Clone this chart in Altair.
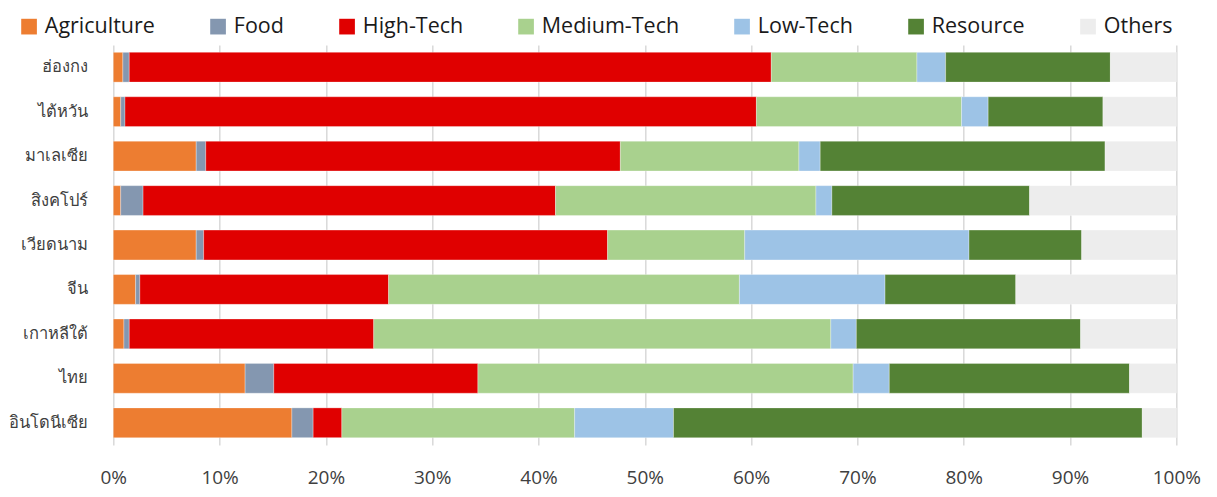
import altair as alt
import pandas as pd

countries = ["ฮ่องกง", "ไต้หวัน", "มาเลเซีย", "สิงคโปร์", "เวียดนาม", "จีน", "เกาหลีใต้", "ไทย", "อินโดนีเซีย"]
sectors = ["Agriculture", "Food", "High-Tech", "Medium-Tech", "Low-Tech", "Resource", "Others"]
colors = ["#ED7D31", "#8497B0", "#E00000", "#A9D18E", "#9DC3E6", "#548235", "#EDEDED"]

agriculture = [0.9, 0.7, 7.8, 0.7, 7.8, 2.1, 1.0, 12.4, 16.8]
food        = [0.6, 0.4, 0.9, 2.1, 0.7, 0.4, 0.5, 2.7, 2.0]
high_tech   = [60.4, 59.4, 39.0, 38.8, 38.0, 23.4, 23.0, 19.2, 2.7]
medium_tech = [13.7, 19.3, 16.8, 24.5, 12.9, 33.0, 43.0, 35.3, 21.9]
low_tech    = [2.7, 2.5, 2.0, 1.5, 21.1, 13.7, 2.4, 3.4, 9.3]
resource    = [15.5, 10.8, 26.8, 18.6, 10.6, 12.3, 21.1, 22.6, 44.1]
others      = [6.2, 6.9, 6.7, 13.8, 8.9, 15.1, 9.0, 4.4, 3.2]

series = [agriculture, food, high_tech, medium_tech, low_tech, resource, others]
rows = []
for si, (name, vals) in enumerate(zip(sectors, series)):
    for c, v in zip(countries, vals):
        rows.append({"country": c, "sector": name, "value": v, "order": si})
df = pd.DataFrame(rows)

FONT = "Open Sans, Noto Sans, sans-serif"

chart = alt.Chart(df).mark_bar(stroke="white", strokeWidth=0.5, strokeOpacity=0.6).encode(
    y=alt.Y("country:N", sort=countries, title=None,
            scale=alt.Scale(paddingInner=0.33, paddingOuter=0.165),
            axis=alt.Axis(labelFontSize=16.5, labelColor="#404040", labelFont=FONT,
                          labelPadding=26, ticks=False, domain=False)),
    x=alt.X("value:Q", stack="normalize", title=None,
            scale=alt.Scale(domain=[0, 1]),
            axis=alt.Axis(format="%", values=[i / 10 for i in range(11)],
                          labelFontSize=19, labelColor="#404040", labelFont=FONT,
                          labelPadding=24, labelFlush=False, ticks=False, domain=False,
                          grid=True, gridColor="#D9D9D9", gridWidth=1.5)),
    color=alt.Color("sector:N", scale=alt.Scale(domain=sectors, range=colors),
                    legend=alt.Legend(title=None, orient="none", direction="horizontal",
                                      legendX=-95, legendY=-29.5,
                                      symbolType="square", symbolSize=246,
                                      symbolStrokeWidth=0,
                                      labelFontSize=21.5, labelColor="#1a1a1a", labelFont=FONT,
                                      labelOffset=5, columnPadding=52)),
    order=alt.Order("order:Q"),
).properties(
    width=1063, height=400,
    padding={"left": 105.3, "top": 37, "right": 30, "bottom": 44},
    autosize="none",
).configure_view(stroke=None)

chart.save("out.html", embed_options={"renderer": "svg", "actions": False})
